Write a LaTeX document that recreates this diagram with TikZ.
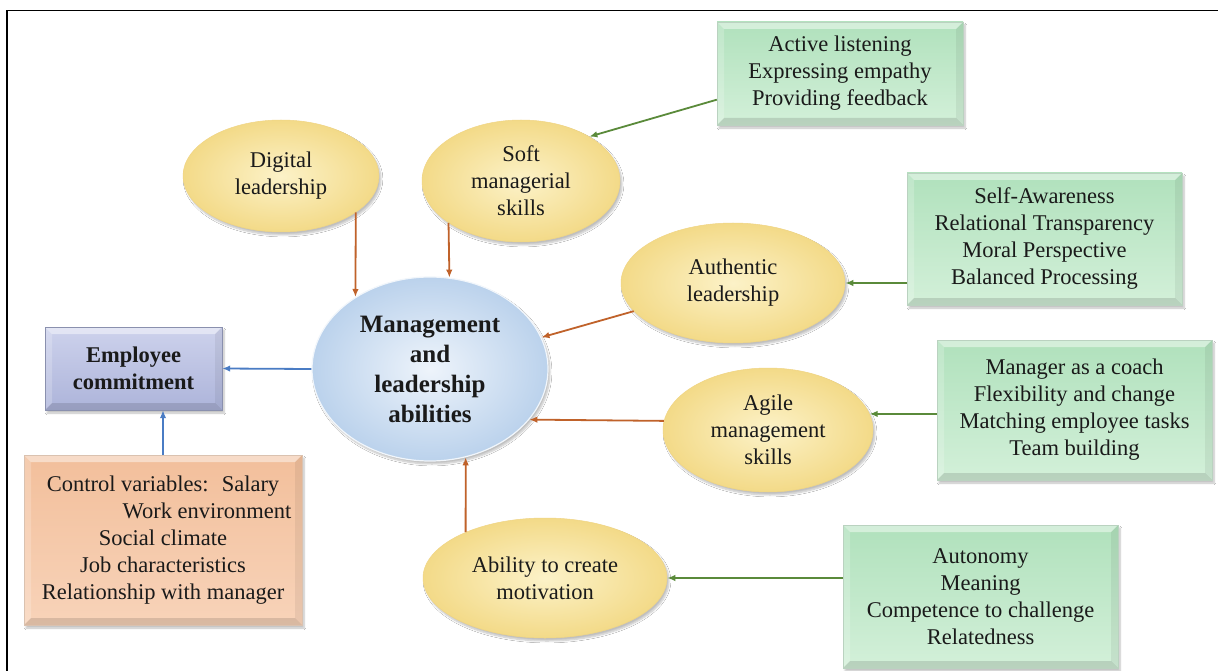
\documentclass[tikz,border=0pt]{standalone}
\usepackage{fontspec}
\setmainfont{Liberation Serif}
\usetikzlibrary{shapes.geometric,arrows.meta,shadows.blur,calc}

\definecolor{ink}{HTML}{1A1A1A}
\definecolor{ovalin}{HTML}{FCF2C8}
\definecolor{ovalout}{HTML}{F3DA88}
\definecolor{ovaledge}{HTML}{F0D585}
\definecolor{corein}{HTML}{EEF4FB}
\definecolor{coreout}{HTML}{BBD2EC}
\definecolor{greentop}{HTML}{B0E1BC}
\definecolor{greenbot}{HTML}{D3F0D9}
\definecolor{peachtop}{HTML}{F2BF9B}
\definecolor{peachbot}{HTML}{F8D3B9}
\definecolor{lavtop}{HTML}{CDD2EC}
\definecolor{lavbot}{HTML}{ADB4DA}
\definecolor{orangeline}{HTML}{C0622A}
\definecolor{greenline}{HTML}{5A8A3A}
\definecolor{blueline}{HTML}{4A7CC4}

\tikzset{
  txt/.style={font=\fontsize{22.5}{27}\selectfont, text=ink, align=center, inner sep=0pt},
  softshadow/.style={blur shadow={shadow xshift=2pt, shadow yshift=-3pt, shadow blur steps=6, shadow opacity=25}},
  oval/.style={ellipse, txt, inner color=ovalin, outer color=ovalout, draw=ovaledge, line width=0.5pt, softshadow},
  core/.style={ellipse, inner sep=0pt, align=center, text=ink,
    font=\fontsize{25}{30}\selectfont\bfseries,
    inner color=corein, outer color=coreout, draw=white!80!coreout, line width=1.2pt, softshadow},
  bevel/.style={path picture={
    \fill[white,opacity=.45] (path picture bounding box.north west) -- (path picture bounding box.north east)
      -- ([xshift=-7pt,yshift=-7pt]path picture bounding box.north east) -- ([xshift=7pt,yshift=-7pt]path picture bounding box.north west) -- cycle;
    \fill[white,opacity=.2] (path picture bounding box.north west) -- ([xshift=7pt,yshift=-7pt]path picture bounding box.north west)
      -- ([xshift=7pt,yshift=7pt]path picture bounding box.south west) -- (path picture bounding box.south west) -- cycle;
    \fill[black,opacity=.06] (path picture bounding box.north east) -- ([xshift=-7pt,yshift=-7pt]path picture bounding box.north east)
      -- ([xshift=-7pt,yshift=7pt]path picture bounding box.south east) -- (path picture bounding box.south east) -- cycle;
    \fill[black,opacity=.12] (path picture bounding box.south west) -- ([xshift=7pt,yshift=7pt]path picture bounding box.south west)
      -- ([xshift=-7pt,yshift=7pt]path picture bounding box.south east) -- (path picture bounding box.south east) -- cycle;
  }},
  greenbox/.style={rectangle, txt, top color=greentop, bottom color=greenbot, draw=greentop!80!black!60, line width=0.4pt, bevel, softshadow},
  peachbox/.style={rectangle, txt, top color=peachtop, bottom color=peachbot, draw=peachtop!80!black!60, line width=0.4pt, bevel, softshadow},
  lavbox/.style={rectangle, txt, font=\fontsize{22.5}{27}\selectfont\bfseries, top color=lavtop, bottom color=lavbot, draw=lavbot!80!black, line width=0.4pt, bevel, softshadow},
  tip/.style={-{Latex[length=8pt,width=6.5pt]}, line width=1.8pt},
  oarrow/.style={tip, draw=orangeline},
  garrow/.style={tip, draw=greenline},
  barrow/.style={tip, draw=blueline},
}

\begin{document}
\begin{tikzpicture}[x=1pt,y=-1pt]
\useasboundingbox (0,0) rectangle (1218,671);
\fill[white] (0,0) rectangle (1218,671);

% outer frame (only the top and left edges are inside the page)
\draw[line width=1.4pt, black] (7,671) -- (7,10.5) -- (1218,10.5);

% central construct
\node[core, minimum width=236pt, minimum height=184pt] (cen) at (430,369)
  {Management\\and\\leadership\\abilities};

% antecedent abilities
\node[oval, minimum width=196pt, minimum height=112pt] (dig) at (281,176) {Digital\\leadership};
\node[oval, minimum width=198pt, minimum height=122pt] (soft) at (521,181) {Soft\\managerial\\skills};
\node[oval, minimum width=224pt, minimum height=120pt] (auth) at (733,283) {Authentic\\leadership};
\node[oval, minimum width=210pt, minimum height=124pt] (agile) at (768,430) {Agile\\management\\skills};
\node[oval, minimum width=244pt, minimum height=120pt] (abil) at (545,578) {Ability to create\\motivation};

% dimension boxes
\node[greenbox, minimum width=246pt, minimum height=103pt] (act) at (840,73.5)
  {Active listening\\Expressing empathy\\Providing feedback};
\node[greenbox, minimum width=275pt, minimum height=132pt] (sa) at (1044.5,239)
  {Self-Awareness\\Relational Transparency\\Moral Perspective\\Balanced Processing};
\node[greenbox, minimum width=275pt, minimum height=140pt] (mgr) at (1074.5,410)
  {Manager as a coach\\Flexibility and change\\Matching employee tasks\\Team building};
\node[greenbox, minimum width=275pt, minimum height=143pt] (aut) at (980.5,596.5)
  {Autonomy\\Meaning\\Competence to challenge\\Relatedness};

% outcome and controls
\node[lavbox, minimum width=177pt, minimum height=83pt] (emp) at (133.5,368.5) {Employee\\commitment};
\node[peachbox, minimum width=278pt, minimum height=170pt] (ctl) at (163,540)
  {Control variables:~ Salary\\\hspace*{88pt}Work environment\\Social climate\\Job characteristics\\Relationship with manager};

% connectors into the central construct
\draw[oarrow] (dig.-26.4) -- (cen.136.6);
\draw[oarrow] (soft.-150.5) -- (cen.78.8);
\draw[oarrow] (auth) -- (cen);
\draw[oarrow] (agile.175) -- (cen.-27.5);
\draw[oarrow] (abil.150.6) -- (cen.-68.3);

% dimension boxes into their abilities
\draw[garrow] (act.192) -- (soft.33);
\draw[garrow] (sa.west |- auth.east) -- (auth.east);
\draw[garrow] (mgr.west |- agile.9) -- (agile.9);
\draw[garrow] (aut.west |- abil.east) -- (abil.east);

% outcome links
\draw[barrow] (cen.west) -- (emp.east);
\draw[barrow] (ctl.north) -- (ctl.north |- emp.south);
\end{tikzpicture}
\end{document}
